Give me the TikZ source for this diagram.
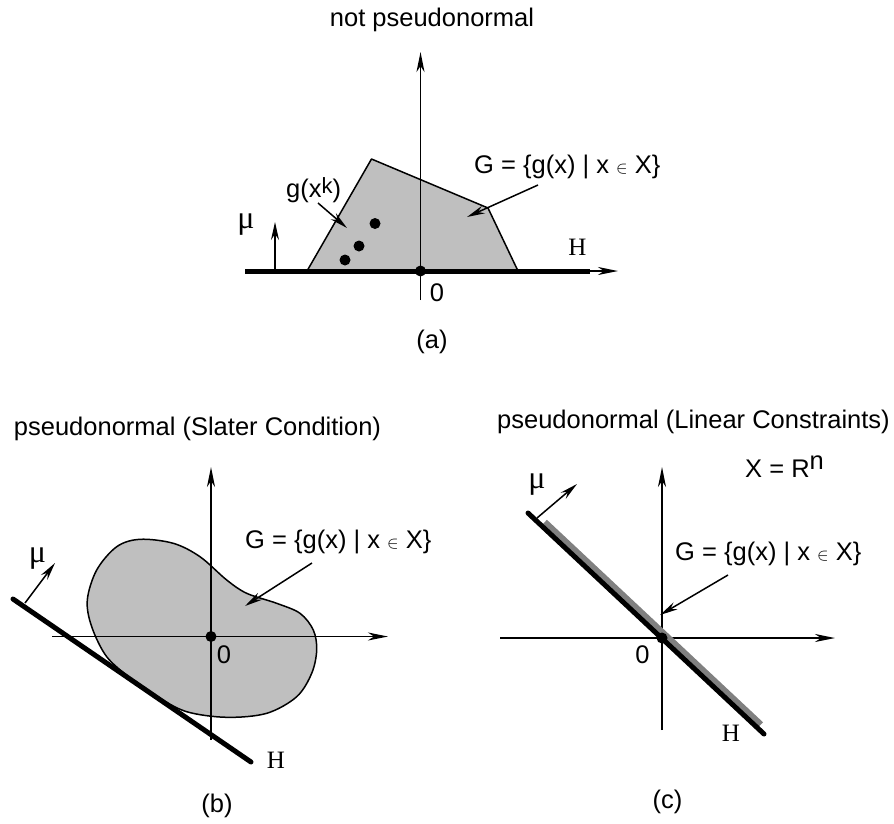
\documentclass[tikz,border=0pt]{standalone}
\usepackage{fontspec}
\setmainfont{Liberation Sans}
\newfontfamily\serifH{Liberation Serif}
\usetikzlibrary{arrows.meta}
\definecolor{regiongray}{gray}{0.75}
\definecolor{linegray}{gray}{0.5}
\newcommand{\elem}{{\fontsize{18}{18}\selectfont$\in$}}
\begin{document}
\begin{tikzpicture}[x=1pt,y=-1pt,
  lbl/.style={inner sep=0pt,font=\fontsize{25.5}{28}\selectfont},
  hl/.style={inner sep=0pt,font=\serifH\fontsize{25}{28}\selectfont},
  mul/.style={inner sep=0pt,font=\serifH\fontsize{32}{34}\selectfont},
  axis/.style={line width=1.5pt,-{Stealth[length=20pt,width=8pt,inset=6pt]}},
  ptr/.style={line width=1.5pt,-{Stealth[length=18pt,width=8pt,inset=6pt]}},
  hline/.style={line width=5pt},
  dotc/.style={circle,fill=black,inner sep=0pt,minimum size=11pt},
  region/.style={fill=regiongray,draw=black,line width=1.5pt,line join=round},
]
\useasboundingbox (0,0) rectangle (894,823);

% ---------------- (a) ----------------
\node[lbl] (ta) at (432,20) {not pseudonormal};
\draw[region] (307,271) -- (371.5,159) -- (488,208) -- (518,271) -- cycle;
\coordinate (ayb) at (420.5,300);
\coordinate (ayt) at (420.5,52);
\coordinate (axl) at (245,271);
\coordinate (axr) at (618,271);
\coordinate (ahr) at (590,271);
\draw[axis] (ayb) -- (ayt);
\draw[axis] (axl) -- (axr);
\draw[hline] (axl) -- (ahr);
\node[dotc] (oa) at (420.5,271) {};
\node[dotc] (d1) at (345,260) {};
\node[dotc] (d2) at (359,246) {};
\node[dotc] (d3) at (375,223.5) {};
\coordinate (mua0) at (275,271);
\coordinate (mua1) at (275,222);
\draw[ptr] (mua0) -- (mua1);
\node[mul,anchor=base] (mua) at (246,228) {μ};
\node[lbl,anchor=base west] (gxk) at (286,197) {g(x\raisebox{4pt}{\fontsize{22}{22}\selectfont k})};
\coordinate (gk0) at (318,203);
\coordinate (gk1) at (347,228);
\draw[ptr] (gk0) -- (gk1);
\node[lbl,anchor=base west] (ga) at (474,173) {G = \{g(x) | x \elem\ X\}};
\coordinate (ga0) at (538,185);
\coordinate (ga1) at (467,217);
\draw[ptr] (ga0) -- (ga1);
\node[hl] (ha) at (577.5,247.5) {H};
\node[lbl] (za) at (437,292.5) {0};
\node[lbl] (la) at (432,342) {(a)};

% ---------------- (b) ----------------
\node[lbl] (tb) at (197.5,428.5) {pseudonormal (Slater Condition)};
\draw[region] plot[smooth cycle,tension=0.55] coordinates {
 (140,539.3) (173.3,543.3) (200,556.7) (226.7,580) (246.7,593.3)
 (276.7,603.3) (300,613.3) (313.3,630) (316.7,650) (311.7,673.3)
 (296.7,696.7) (266.7,713.3) (226.7,717.3) (186.7,711.7) (157,696.5)
 (131,678.5) (106.7,656.7) (91.7,626.7) (87.3,600) (96.7,570) (116.7,546.7)};
\coordinate (byb) at (211,740);
\coordinate (byt) at (211,467);
\coordinate (bxl) at (52,636.5);
\coordinate (bxr) at (388,636.5);
\draw[axis] (byb) -- (byt);
\draw[axis] (bxl) -- (bxr);
\coordinate (bh0) at (13,599);
\coordinate (bh1) at (251,762);
\draw[hline,line cap=round] (bh0) -- (bh1);
\node[dotc] (ob) at (211,636.5) {};
\coordinate (mub0) at (25,603);
\coordinate (mub1) at (55,563);
\draw[ptr] (mub0) -- (mub1);
\node[mul,anchor=base] (mub) at (37.5,562) {μ};
\node[lbl,anchor=base west] (gb) at (245,548) {G = \{g(x) | x \elem\ X\}};
\coordinate (gb0) at (312,563);
\coordinate (gb1) at (245,606);
\draw[ptr] (gb0) -- (gb1);
\node[hl] (hb) at (276,760) {H};
\node[lbl] (zb) at (224,654.5) {0};
\node[lbl] (lb) at (217,806) {(b)};

% ---------------- (c) ----------------
\node[lbl] (tc) at (693.5,421.5) {pseudonormal (Linear Constraints)};
\node[lbl,anchor=base west] (xr) at (745,477) {X = R\raisebox{8pt}{n}};
\coordinate (cyb) at (662,730);
\coordinate (cyt) at (662,467);
\coordinate (cxl) at (500,638);
\coordinate (cxr) at (835,638);
\draw[axis] (cyb) -- (cyt);
\draw[axis] (cxl) -- (cxr);
\coordinate (cg0) at (544.5,522.3);
\coordinate (cg1) at (760.6,724.8);
\draw[line width=7pt,linegray] (cg0) -- (cg1);
\coordinate (ch0) at (528,513);
\coordinate (ch1) at (764,734);
\draw[hline,line cap=round] (ch0) -- (ch1);
\node[dotc] (oc) at (662,638) {};
\coordinate (muc0) at (537,518);
\coordinate (muc1) at (577,484);
\draw[ptr] (muc0) -- (muc1);
\node[mul,anchor=base] (muc) at (537,488) {μ};
\node[lbl,anchor=base west] (gc) at (675,560) {G = \{g(x) | x \elem\ X\}};
\coordinate (gc0) at (728,575);
\coordinate (gc1) at (660,615);
\draw[ptr] (gc0) -- (gc1);
\node[hl] (hc) at (731,733.5) {H};
\node[lbl] (zc) at (642.5,655) {0};
\node[lbl] (lc) at (667.5,802) {(c)};
\end{tikzpicture}
\end{document}
